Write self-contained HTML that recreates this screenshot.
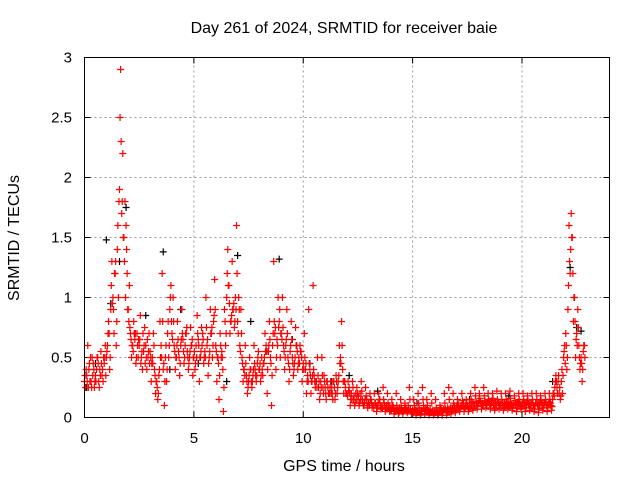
<!DOCTYPE html>
<html><head><meta charset="utf-8"><style>
html,body{margin:0;padding:0;background:#fff;}
svg{display:block;font-family:"Liberation Sans",sans-serif;}
</style></head><body>
<svg id="chart" width="640" height="480" viewBox="0 0 640 480">
<text x="344" y="33" font-size="16" text-anchor="middle">Day 261 of 2024, SRMTID for receiver baie</text>
<text x="344" y="471" font-size="16" text-anchor="middle">GPS time / hours</text>
<text transform="translate(19,238) rotate(-90)" font-size="16" text-anchor="middle">SRMTID / TECUs</text>
<g id="grid"></g>
<g id="ticks"></g>
<g id="black"></g>
<g id="red"></g>
<rect x="84.5" y="57.5" width="525" height="360" fill="none" stroke="#000" stroke-width="1"/>
</svg>
<script>
const xTicks=[0,5,10,15,20];
const yTicks=[0,0.5,1,1.5,2,2.5,3];
const yTickLabels=["0","0.5","1","1.5","2","2.5","3"];
const redA=[.3,.35,.4,.3,.45,.35,.5,.4,.35,.45, .5,.8,.9,1.0,1.2,1.4,1.9,1.7,1.5,1.6, .9,.7,.6,.65,.7,.6,.5,.55,.6,.5, .55,.5,.4,.3,.35,.6,.4,.5,.7,.9, .7,.6,.5,.55,.6,.65,.6,.55,.5,.6, .5,.6,.65,.5,.7,.55,.6,.5,.7,.8, .6,.5,.7,.5,.9,1.0,1.1,.8,.9,1.0, .8,.6,.5,.4,.35,.3,.4,.35,.4,.45, .4,.5,.45,.6,.55,.5,.6,.7,.65,.8, .7,.6,.6,.5,.55,.5,.45,.6,.5,.55, .45,.4,.35,.4,.3,.35,.3,.25,.3,.25, .25,.3,.2,.25,.3,.35,.3,.5,.4,.3, .2,.25,.2,.15,.2,.15,.2,.15,.12,.15, .12,.15,.1,.12,.1,.15,.1,.12,.1,.08, .08,.1,.07,.06,.08,.07,.06,.08,.1,.07, .06,.07,.05,.08,.06,.1,.08,.06,.07,.05, .05,.06,.05,.08,.06,.07,.08,.07,.08,.1, .08,.1,.09,.1,.08,.1,.12,.1,.12,.13, .12,.13,.12,.14,.12,.13,.12,.1,.12,.13, .12,.1,.12,.11,.12,.1,.12,.1,.11,.12, .1,.12,.1,.11,.1,.12,.1,.11,.1,.12, .1,.12,.11,.12,.15,.25,.25,.2,.3,.5, .7,.9,1.2,1.5,1.0,.7,.6,.5,.55];
const redB=[.25,.6,.3,.5,.25,.4,.3,.55,.3,.6, .6,.4,1.3,.7,.6,1.0,2.9,2.2,1.8,1.2, 1.1,.5,.8,.45,.5,.85,.4,.75,.4,.7, .3,.7,.2,.15,.8,1.2,.1,.3,.5,1.1, 1.0,.4,.8,.35,.9,.45,.7,.4,.75,.35, .4,.85,.3,.75,.45,1.0,.35,.9,.5,1.15, .3,.15,.5,.05,.6,1.4,.7,1.3,.75,1.6, 1.0,.9,.3,.6,.2,.5,.25,.6,.3,.55, .3,.35,.7,.2,.8,.1,1.3,.4,1.0,.5, 1.0,.4,.9,.3,.8,.35,.75,.4,.6,.3, .7,.2,.9,.2,1.1,.25,.5,.15,.5,.35, .15,.2,.3,.15,.15,.2,.6,.8,.2,.2, .3,.1,.3,.1,.25,.1,.3,.1,.25,.08, .2,.08,.2,.05,.2,.07,.25,.05,.2,.05, .15,.03,.2,.03,.15,.03,.12,.04,.25,.03, .15,.02,.2,.02,.25,.03,.15,.02,.2,.02, .15,.02,.1,.02,.2,.02,.25,.03,.2,.04, .15,.05,.2,.05,.15,.05,.2,.06,.25,.07, .2,.07,.25,.08,.2,.07,.2,.06,.22,.07, .2,.06,.2,.07,.22,.06,.18,.05,.2,.07, .2,.05,.18,.06,.2,.05,.2,.04,.18,.06, .2,.05,.2,.06,.2,.35,.3,.15,.2,.6, .4,1.6,1.7,.8,.5,.9,.4,.3,.6];
const redC=[.35,.3,.45,.25,.4,.3,.45,.35,.4,.5, .55,.7,1.1,.9,1.3,1.6,2.5,1.8,1.3,1.4, .8,.65,.55,.7,.6,.65,.55,.6,.5,.55, .5,.45,.35,.25,.4,.5,.45,.6,.8,1.0, .65,.55,.6,.5,.65,.55,.7,.5,.55,.65, .55,.5,.6,.55,.65,.5,.65,.55,.75,.85, .55,.45,.6,.4,.8,1.2,.95,.85,.95,.9, .7,.55,.45,.35,.3,.35,.3,.4,.35,.5, .45,.4,.5,.55,.6,.45,.7,.75,.6,.9, .65,.55,.65,.45,.6,.45,.5,.55,.45,.5, .4,.45,.3,.35,.35,.3,.25,.3,.25,.2, .2,.25,.25,.2,.25,.3,.35,.45,.3,.25, .18,.2,.15,.18,.15,.18,.15,.12,.15,.1, .1,.12,.08,.1,.12,.1,.08,.1,.07,.1, .06,.08,.05,.07,.06,.05,.08,.06,.07,.05, .05,.06,.04,.06,.05,.07,.06,.05,.04,.06, .04,.05,.06,.05,.07,.06,.07,.08,.07,.08, .1,.08,.1,.12,.1,.09,.1,.13,.1,.12, .14,.12,.11,.12,.13,.11,.14,.12,.1,.12, .1,.12,.1,.13,.1,.11,.1,.12,.13,.1, .12,.1,.13,.1,.12,.1,.12,.1,.13,.1, .12,.1,.13,.1,.2,.3,.2,.25,.4,.55, .6,1.1,1.4,1.2,.8,.6,.5,.45,.6];
const redD=[.4,.25,.5,.35,.3,.5,.25,.45,.5,.35, .7,.5,.95,1.2,.8,1.8,2.3,1.5,1.0,.9, .75,.6,.7,.5,.65,.45,.7,.45,.65,.45, .45,.6,.3,.2,.5,.8,.3,.4,.6,.8, .8,.5,.65,.45,.7,.5,.75,.45,.6,.5, .45,.7,.5,.6,.5,.75,.45,.7,.6,.9, .5,.35,.55,.25,.7,1.1,.8,.9,.8,1.2, .9,.7,.4,.45,.25,.4,.3,.45,.35,.4, .35,.45,.55,.4,.65,.35,.8,.5,.75,.7, .75,.5,.7,.4,.65,.4,.6,.45,.55,.4, .5,.3,.45,.3,.4,.3,.35,.2,.35,.3, .3,.2,.2,.3,.2,.25,.45,.6,.3,.2, .22,.15,.25,.12,.2,.12,.22,.1,.18,.12, .15,.1,.12,.08,.15,.08,.15,.08,.12,.06, .1,.05,.1,.04,.1,.05,.08,.05,.15,.05, .1,.04,.12,.03,.15,.05,.1,.04,.12,.03, .08,.03,.08,.04,.12,.04,.15,.05,.12,.06, .12,.07,.14,.08,.12,.07,.15,.08,.18,.09, .16,.1,.18,.1,.15,.1,.16,.08,.15,.1, .15,.08,.15,.09,.16,.08,.14,.08,.15,.09, .15,.08,.14,.08,.15,.07,.15,.07,.14,.08, .15,.08,.15,.09,.18,.3,.35,.18,.35,.45, .5,1.3,1.5,1.0,.65,.75,.45,.4,.5];
const blackT=[0.1,0.5,1.0,1.2,1.6,1.9,2.3,2.8,3.6,3.9,4.4,5.2,5.8,6.5,7.0,7.6,8.4,8.9,9.5,10.3,11.3,12.1,13.4,15.2,17.6,19.4,21.4,22.2,22.5,22.7];
const blackV=[0.25,0.45,1.48,0.95,1.3,1.75,0.7,0.85,1.38,0.4,0.9,0.45,0.7,0.3,1.35,0.8,0.55,1.32,0.65,0.45,0.3,0.35,0.22,0.12,0.15,0.18,0.3,1.25,0.75,0.72];
const X0=84.5,X1=609.5,Y0=417.5,Y1=57.5;
const xs=v=>X0+(v/24)*(X1-X0);
const ys=v=>Y0-(v/3)*(Y0-Y1);
const NS="http://www.w3.org/2000/svg";
function mk(t,a,p){const e=document.createElementNS(NS,t);for(const k in a)e.setAttribute(k,a[k]);p.appendChild(e);return e;}
const grid=document.getElementById('grid'),ticks=document.getElementById('ticks');
xTicks.forEach(t=>{const x=xs(t);
 if(t>0){const g=mk('line',{x1:x,y1:Y0,x2:x,y2:Y1,stroke:'#999','stroke-dasharray':'2,3'},grid);}
 mk('line',{x1:x,y1:Y0,x2:x,y2:Y0-6,stroke:'#000'},ticks);mk('line',{x1:x,y1:Y1,x2:x,y2:Y1+6,stroke:'#000'},ticks);
 const l=mk('text',{x:x,y:443,'font-size':15,'text-anchor':'middle'},ticks);l.textContent=String(t);
 });
yTicks.forEach((t,i)=>{const y=ys(t);
 if(t>0&&t<3){const g=mk('line',{x1:X0,y1:y,x2:X1,y2:y,stroke:'#999','stroke-dasharray':'2,3'},grid);}
 mk('line',{x1:X0,y1:y,x2:X0+6,y2:y,stroke:'#000'},ticks);mk('line',{x1:X1,y1:y,x2:X1-6,y2:y,stroke:'#000'},ticks);
 const l=mk('text',{x:72,y:y+5,'font-size':15,'text-anchor':'end'},ticks);l.textContent=yTickLabels[i];
 });
function plus(g,x,y,c){const p=mk('path',{d:`M${x-3.5},${y}h7M${x},${y-3.5}v7`,stroke:c,'stroke-width':1.2,fill:'none'},g);
 }
const bg=document.getElementById('black'),rg=document.getElementById('red');
blackT.forEach((t,i)=>plus(bg,xs(t),ys(blackV[i]),'#000'));
redA.forEach((v,i)=>plus(rg,xs(i*0.1),ys(v),'#f00'));
redC.forEach((v,i)=>plus(rg,xs(i*0.1+0.025),ys(v),'#f00'));
redB.forEach((v,i)=>plus(rg,xs(i*0.1+0.05),ys(v),'#f00'));
redD.forEach((v,i)=>plus(rg,xs(i*0.1+0.075),ys(v),'#f00'));
</script>
</body></html>
